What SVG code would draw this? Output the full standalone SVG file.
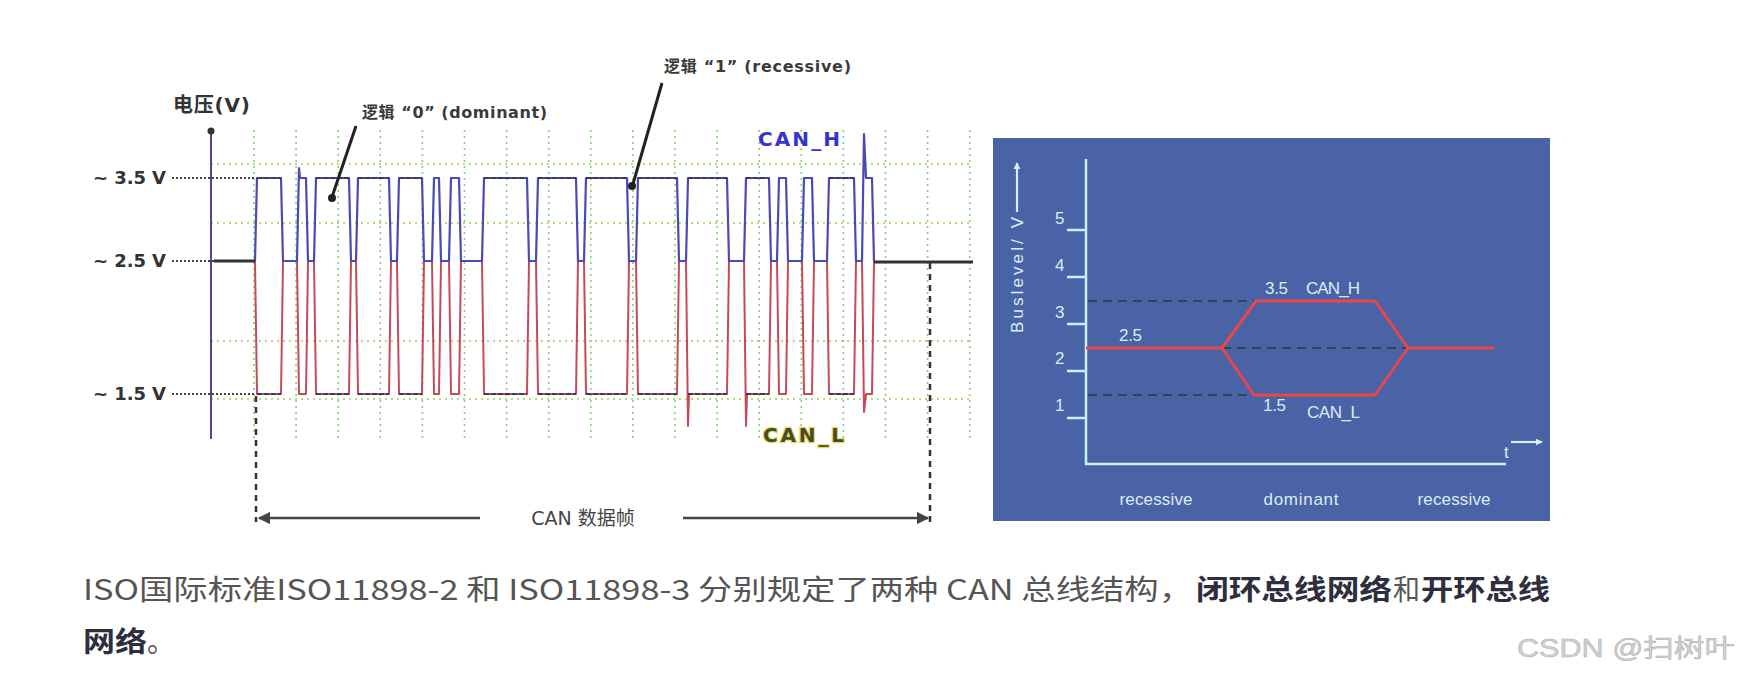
<svg xmlns="http://www.w3.org/2000/svg" width="1742" height="684" viewBox="0 0 1742 684">
<defs>
<style>
.lbl{font-family:"DejaVu Sans","Noto Sans CJK SC",sans-serif;font-weight:bold;fill:#333;}
.ann{font-family:"DejaVu Sans","Noto Sans CJK SC",sans-serif;fill:#3a3a3a;font-weight:bold;}
.grid{fill:none;stroke:#86cf7a;stroke-width:1.6;stroke-dasharray:2 4;}
.hgrid{fill:none;stroke:#9ccf5a;stroke-width:1.6;stroke-dasharray:2 4;}
.lvl{fill:none;stroke:#444;stroke-width:2;stroke-dasharray:2 2;}
.rp{font-family:"Liberation Sans Narrow","Liberation Sans",sans-serif;fill:#dcecf4;font-size:17px;}
.body{font-family:"Noto Sans CJK SC",sans-serif;font-size:28px;}
.norm{fill:#555;}
.bold{fill:#2e2e3e;font-weight:bold;}
</style>
<marker id="ah" viewBox="0 0 10 10" refX="9" refY="5" markerWidth="5" markerHeight="5" orient="auto-start-reverse" markerUnits="strokeWidth">
<path d="M0,0 L10,5 L0,10 z" fill="#444"/>
</marker>
<marker id="lah" viewBox="0 0 10 10" refX="9" refY="5" markerWidth="3.2" markerHeight="3.2" orient="auto" markerUnits="strokeWidth">
<path d="M0,0 L10,5 L0,10 z" fill="#cff4ff"/>
</marker>
</defs>
<rect width="1742" height="684" fill="#fff"/>

<g id="scope">
<path class="grid" d="M254,130V439 M296.1,130V439 M338.2,130V439 M380.3,130V439 M422.4,130V439 M464.5,130V439 M506.6,130V439 M548.7,130V439 M590.8,130V439 M632.9,130V439 M675,130V439 M717.1,130V439 M759.2,130V439 M801.3,130V439 M843.4,130V439 M885.5,130V439 M927.6,130V439 M969.7,130V439"/>
<path class="hgrid" d="M211,164H972 M211,223H972 M211,341H972 M211,399H972"/>
<path class="lvl" d="M172,178H256 M172,261H214 M172,394H256"/>
<line x1="211" y1="130" x2="211" y2="439" stroke="#4a4a86" stroke-width="2"/>
<circle cx="211" cy="131" r="3.5" fill="#333"/>
<text class="lbl" x="173" y="112" font-size="20" textLength="77">电压(V)</text>
<text class="lbl" x="93" y="184" font-size="18" textLength="73">~ 3.5 V</text>
<text class="lbl" x="93" y="267" font-size="18" textLength="73">~ 2.5 V</text>
<text class="lbl" x="93" y="400" font-size="18" textLength="73">~ 1.5 V</text>
<path id="canl" fill="none" stroke="#c44a5a" stroke-width="2" stroke-linejoin="round" d="M214,261 H255 L257,394 H281 L283,261 H297 L299,394 H306 L308,261 H314 L316,394 H349 L351,261 H356 L358,394 H389 L391,261 H397 L399,394 H422 L424,261 H432 L434,394 H439 L441,261 H449 L451,394 H459 L461,261 H482 L484,394 H527 L529,261 H536 L538,394 H576 L578,261 H584 L586,394 H627 L629,261 H636 L638,394 H677 L679,261 H686 L688,426 L689,394 H727 L729,261 H744 L746,426 L747,394 H769 L771,261 H777 L779,394 H786 L788,261 H802 L804,394 H812 L814,261 H827 L829,394 H854 L856,261 H862 L864,412 L866,394 H872 L874,261"/>
<path id="canh" fill="none" stroke="#4a4ab4" stroke-width="2.2" stroke-linejoin="round" d="M214,261 H255 L257,178 H281 L283,261 H297 L299,168 L300,178 H306 L308,261 H314 L316,178 H349 L351,261 H356 L358,178 H389 L391,261 H397 L399,178 H422 L424,261 H432 L434,178 H439 L441,261 H449 L451,178 H459 L461,261 H482 L484,178 H527 L529,261 H536 L538,178 H576 L578,261 H584 L586,178 H627 L629,261 H636 L638,178 H677 L679,261 H686 L688,178 H727 L729,261 H744 L746,178 H769 L771,261 H777 L779,178 H786 L788,261 H802 L804,178 H812 L814,261 H827 L829,178 H854 L856,261 H862 L864,134 L866,178 H872 L874,261"/>
<path fill="none" stroke="#3a3a55" stroke-width="2" stroke-dasharray="5 2" d="M257,178H281 M316,178H349 M358,178H389 M399,178H422 M484,178H527 M538,178H576 M586,178H627 M638,178H677 M688,178H727 M746,178H769 M829,178H854 M257,394H281 M316,394H349 M358,394H389 M399,394H422 M484,394H527 M538,394H576 M586,394H627 M638,394H677 M688,394H727 M746,394H769 M829,394H854"/>
<path fill="none" stroke="#333" stroke-width="3.2" d="M214,261H255 M874,262 Q876,262 880,262 H973"/>
<text x="758" y="146" font-family="DejaVu Sans,sans-serif" font-weight="bold" font-size="20" fill="#3434c8" textLength="82">CAN_H</text>
<text x="763" y="442" font-family="DejaVu Sans,sans-serif" font-weight="bold" font-size="20" fill="#4a4a2a" stroke="#e6e060" stroke-width="2.5" paint-order="stroke" textLength="81">CAN_L</text>
</g>

<g id="ann0">
<text class="ann" x="362" y="118" font-size="16" textLength="185">逻辑 “0” (dominant)</text>
<line x1="356" y1="126" x2="332" y2="197" stroke="#222" stroke-width="3"/>
<circle cx="332" cy="198" r="4" fill="#222"/>
</g>
<g id="ann1">
<text class="ann" x="664" y="72" font-size="16" textLength="187">逻辑 “1” (recessive)</text>
<line x1="662" y1="83" x2="633" y2="184" stroke="#222" stroke-width="3"/>
<circle cx="632" cy="186" r="4" fill="#222"/>
</g>

<g id="frame">
<path fill="none" stroke="#333" stroke-width="2.5" stroke-dasharray="6 5" d="M256,396V522 M930,263V522"/>
<line x1="480" y1="518" x2="259" y2="518" stroke="#444" stroke-width="2.5" marker-end="url(#ah)"/>
<line x1="683" y1="518" x2="928" y2="518" stroke="#444" stroke-width="2.5" marker-end="url(#ah)"/>
<text x="583" y="525" text-anchor="middle" font-family="DejaVu Sans,'Noto Sans CJK SC',sans-serif" font-size="19" fill="#444">CAN 数据帧</text>
</g>

<g id="buslevel">
<rect x="993" y="138" width="557" height="383" fill="#4a63a6"/>
<g stroke="#c4f2ff" stroke-width="2.5" fill="none">
<path d="M1086,159V464H1506"/>
<path d="M1067,230H1086 M1067,277H1086 M1067,324H1086 M1067,371H1086 M1067,418H1086"/>
</g>
<line x1="1017" y1="212" x2="1017" y2="163" stroke="#cff4ff" stroke-width="2.2" marker-end="url(#lah)"/>
<line x1="1511" y1="442" x2="1542" y2="442" stroke="#cff4ff" stroke-width="2.2" marker-end="url(#lah)"/>
<text class="rp" x="1023" y="333" transform="rotate(-90 1023 333)" textLength="116" font-size="16">Buslevel/ V</text>
<text class="rp" x="1055" y="224">5</text>
<text class="rp" x="1055" y="271">4</text>
<text class="rp" x="1055" y="318">3</text>
<text class="rp" x="1055" y="364">2</text>
<text class="rp" x="1055" y="411">1</text>
<text class="rp" x="1504" y="458">t</text>
<path fill="none" stroke="#3a3f55" stroke-width="2.2" stroke-dasharray="9 6" d="M1088,301H1254 M1088,395H1254 M1222,348H1408"/>
<path fill="none" stroke="#e8474a" stroke-width="3" stroke-linejoin="miter" d="M1086,348H1222 L1256,301 H1375 L1408,348 H1494 M1222,348 L1254,395 H1375 L1408,348"/>
<text class="rp" x="1265" y="294" textLength="23">3.5</text>
<text class="rp" x="1306" y="294" textLength="54">CAN_H</text>
<text class="rp" x="1119" y="341" textLength="23">2.5</text>
<text class="rp" x="1263" y="411" textLength="23">1.5</text>
<text class="rp" x="1307" y="418" textLength="53">CAN_L</text>
<text class="rp" x="1156" y="505" text-anchor="middle" textLength="73">recessive</text>
<text class="rp" x="1301" y="505" text-anchor="middle" textLength="75">dominant</text>
<text class="rp" x="1454" y="505" text-anchor="middle" textLength="73">recessive</text>
</g>

<g id="caption">
<text class="body norm" x="83" y="600" textLength="1110" lengthAdjust="spacingAndGlyphs">ISO国际标准ISO11898-2 和 ISO11898-3 分别规定了两种 CAN 总线结构，</text>
<text class="body bold" x="1196" y="600" textLength="196" lengthAdjust="spacingAndGlyphs">闭环总线网络</text>
<text class="body norm" x="1393" y="600" textLength="27" lengthAdjust="spacingAndGlyphs">和</text>
<text class="body bold" x="1421" y="600" textLength="129" lengthAdjust="spacingAndGlyphs">开环总线</text>
<text class="body bold" x="83" y="652" textLength="64" lengthAdjust="spacingAndGlyphs">网络</text>
<text class="body norm" x="147" y="652">。</text>
</g>

<text x="1517" y="657" font-family="Liberation Sans,'Noto Sans CJK SC',sans-serif" font-size="25" fill="#d2d2d2" stroke="#b0b0b0" stroke-width="0.5" textLength="218" lengthAdjust="spacingAndGlyphs">CSDN @扫树叶</text>
</svg>
